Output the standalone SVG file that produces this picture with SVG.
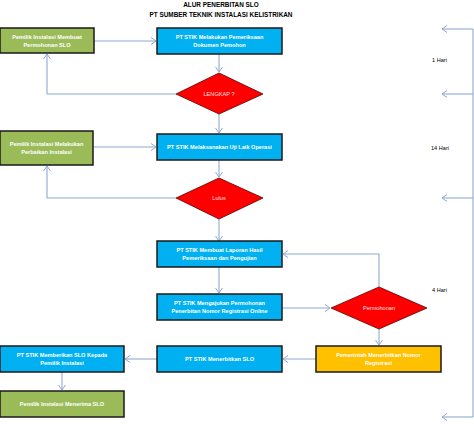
<svg xmlns="http://www.w3.org/2000/svg" width="474" height="424" viewBox="0 0 474 424">
<defs>
<marker id="ah" viewBox="0 0 6 8" refX="5.5" refY="4" markerWidth="6" markerHeight="8" markerUnits="userSpaceOnUse" orient="auto">
<path d="M0.5,0.5 L5.5,4 L0.5,7.5" fill="none" stroke="#8EA9CF" stroke-width="1"/>
</marker>
<style>
.bx{stroke:#1a1a1a;stroke-width:1.5}
.g{fill:#9BBB59}
.b{fill:#00B0F0}
.o{fill:#FFC000}
.d{fill:#FF0000;stroke:#5a0000;stroke-width:0.8}
.t{font-family:"Liberation Sans",Arial,sans-serif;font-size:5.6px;font-weight:bold;fill:#ffffff;text-anchor:middle}
.dt{font-family:"Liberation Sans",Arial,sans-serif;font-size:5.6px;fill:#ffe0e0;text-anchor:middle}
.ti{font-family:"Liberation Sans",Arial,sans-serif;font-size:6.4px;font-weight:bold;fill:#000000;text-anchor:middle}
.h{font-family:"Liberation Sans",Arial,sans-serif;font-size:5.6px;fill:#000000}
.c{fill:none;stroke:#8EA9CF;stroke-width:1.1}
.a{marker-end:url(#ah)}
</style>
</defs>
<rect width="474" height="424" fill="#ffffff"/>
<g id="title">
<text class="ti" x="221" y="7">ALUR PENERBITAN SLO</text>
<text class="ti" x="221" y="17">PT SUMBER TEKNIK INSTALASI KELISTRIKAN</text>
</g>
<g id="connectors">
<path class="c a" d="M94,41 H156"/>
<path class="c a" d="M219,54 V72"/>
<path class="c a" d="M176,94 H47 V54"/>
<path class="c a" d="M219,114 V133"/>
<path class="c a" d="M93,147 H156"/>
<path class="c a" d="M219,160 V177"/>
<path class="c a" d="M176,198 H47 V166"/>
<path class="c a" d="M219,219 V241"/>
<path class="c a" d="M219,267 V293"/>
<path class="c a" d="M282,308 H330"/>
<path class="c a" d="M379,287 V254 H283"/>
<path class="c a" d="M379,329 V345"/>
<path class="c a" d="M316,359 H283"/>
<path class="c a" d="M157,359 H125"/>
<path class="c a" d="M62,372 V390"/>
<path class="c" d="M473,29 V417"/>
<path class="c a" d="M473,29 H442"/>
<path class="c a" d="M473,94 H442"/>
<path class="c a" d="M473,198 H442"/>
<path class="c a" d="M473,417 H442"/>
</g>
<g id="n1"><rect class="bx g" x="0" y="28" width="94" height="25"/><text class="t" x="47" y="39">Pemilik Instalasi Membuat</text><text class="t" x="47" y="47">Permohonan SLO</text></g>
<g id="n2"><rect class="bx b" x="157" y="28" width="125" height="26"/><text class="t" x="219.5" y="39">PT STIK Melakukan Pemeriksaan</text><text class="t" x="219.5" y="47">Dokumen Pemohon</text></g>
<g id="d1"><polygon class="d" points="219,73 263,94 219,114 176,94"/><text class="dt" x="219" y="96">LENGKAP ?</text></g>
<g id="n3"><rect class="bx g" x="0" y="131" width="93" height="34"/><text class="t" x="46.5" y="146">Pemilik Instalasi Melakukan</text><text class="t" x="46.5" y="154">Perbaikan Instalasi</text></g>
<g id="n4"><rect class="bx b" x="157" y="134" width="125" height="26"/><text class="t" x="219.5" y="149">PT STIK Melaksanakan Uji Laik Operasi</text></g>
<g id="d2"><polygon class="d" points="219,178 263,198 219,219 176,198"/><text class="dt" x="219" y="200">Lulus</text></g>
<g id="n5"><rect class="bx b" x="157" y="241" width="125" height="26"/><text class="t" x="219.5" y="252">PT STIK Membuat Laporan Hasil</text><text class="t" x="219.5" y="260">Pemeriksaan dan Pengujian</text></g>
<g id="n6"><rect class="bx b" x="157" y="294" width="125" height="26"/><text class="t" x="219.5" y="305">PT STIK Mengajukan Permohonan</text><text class="t" x="219.5" y="313">Penerbitan Nomor Registrasi Online</text></g>
<g id="d3"><polygon class="d" points="379,287 427,308 379,329 331,308"/><text class="dt" x="379" y="310">Permohonan</text></g>
<g id="n7"><rect class="bx o" x="316" y="346" width="125" height="26"/><text class="t" x="378.5" y="357">Pemerintah Menerbitkan Nomor</text><text class="t" x="378.5" y="365">Registrasi</text></g>
<g id="n8"><rect class="bx b" x="157" y="346" width="125" height="26"/><text class="t" x="219.5" y="361">PT STIK Menerbitkan SLO</text></g>
<g id="n9"><rect class="bx b" x="0" y="346" width="124" height="26"/><text class="t" x="62" y="357">PT STIK Memberikan SLO Kepada</text><text class="t" x="62" y="365">Pemilik Instalasi</text></g>
<g id="n10"><rect class="bx g" x="0" y="391" width="124" height="26"/><text class="t" x="62" y="406">Pemilik Instalasi Menerima SLO</text></g>
<g id="labels">
<text class="h" x="432" y="62">1 Hari</text>
<text class="h" x="431" y="150">14 Hari</text>
<text class="h" x="432" y="292">4 Hari</text>
</g>
</svg>
